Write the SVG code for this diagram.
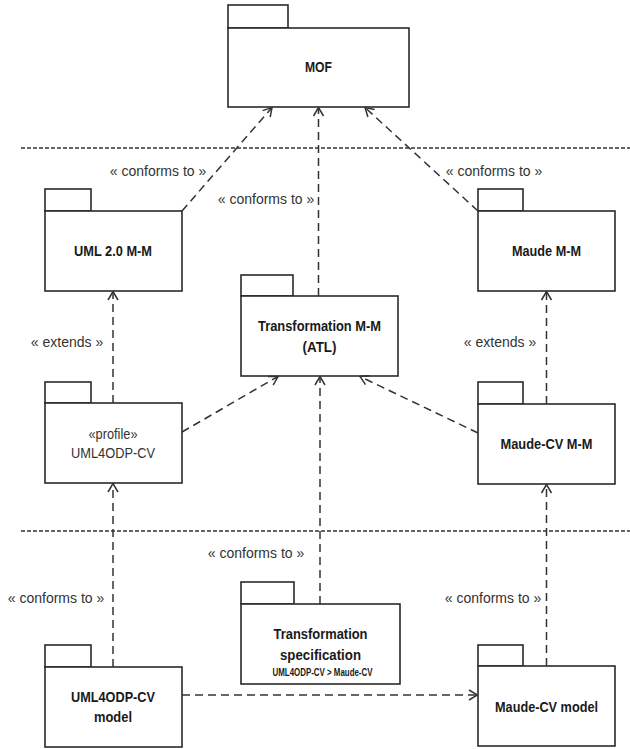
<svg xmlns="http://www.w3.org/2000/svg" width="630" height="749" viewBox="0 0 630 749">
  <style>
    .pkg { fill: #ffffff; stroke: #2a2a2a; stroke-width: 1.6; }
    .name { font-family: "Liberation Sans", Arial, sans-serif; font-weight: bold; font-size: 15px; fill: #1a1a1a; text-anchor: middle; }
    .plain { font-family: "Liberation Sans", Arial, sans-serif; font-size: 14.5px; fill: #333333; text-anchor: middle; }
    .small { font-family: "Liberation Sans", Arial, sans-serif; font-weight: bold; font-size: 10px; fill: #1a1a1a; text-anchor: middle; }
    .lbl { font-family: "Liberation Sans", Arial, sans-serif; font-size: 14px; fill: #333333; text-anchor: middle; }
    .sep { stroke: #333333; stroke-width: 1.4; stroke-dasharray: 4 2; fill: none; }
    .dep { stroke: #333333; stroke-width: 1.5; stroke-dasharray: 8 5; fill: none; marker-end: url(#open); }
  </style>
  <defs>
    <marker id="open" viewBox="0 0 10 12" refX="9.5" refY="6" markerWidth="10" markerHeight="12" markerUnits="userSpaceOnUse" orient="auto">
      <path d="M1,1 L9.5,6 L1,11" fill="none" stroke="#333333" stroke-width="1.5"/>
    </marker>
  </defs>

  <rect width="630" height="749" fill="#ffffff"/>

  <!-- level separators -->
  <line class="sep" x1="21" y1="148" x2="630" y2="148"/>
  <line class="sep" x1="21" y1="531" x2="630" y2="531"/>

  <!-- packages -->
  <g id="mof">
    <rect class="pkg" x="228" y="5" width="60" height="23"/>
    <rect class="pkg" x="228" y="28" width="181" height="79"/>
    <text class="name" x="318.5" y="72" textLength="27" lengthAdjust="spacingAndGlyphs">MOF</text>
  </g>

  <g id="uml-mm">
    <rect class="pkg" x="45" y="189" width="46" height="22"/>
    <rect class="pkg" x="45" y="211" width="137" height="80"/>
    <text class="name" x="113" y="255.5" textLength="78" lengthAdjust="spacingAndGlyphs">UML 2.0 M-M</text>
  </g>

  <g id="maude-mm">
    <rect class="pkg" x="478" y="189" width="45" height="22"/>
    <rect class="pkg" x="478" y="211" width="137" height="80"/>
    <text class="name" x="546.5" y="255.5" textLength="69" lengthAdjust="spacingAndGlyphs">Maude M-M</text>
  </g>

  <g id="transformation-mm">
    <rect class="pkg" x="241" y="275" width="52" height="21"/>
    <rect class="pkg" x="241" y="296" width="157" height="80"/>
    <text class="name" x="319.5" y="330.5" textLength="123" lengthAdjust="spacingAndGlyphs">Transformation M-M</text>
    <text class="name" x="319.5" y="351.5" textLength="34" lengthAdjust="spacingAndGlyphs">(ATL)</text>
  </g>

  <g id="uml4odp-profile">
    <rect class="pkg" x="45" y="382" width="46" height="21"/>
    <rect class="pkg" x="45" y="403" width="137" height="80"/>
    <text class="plain" x="113" y="439" textLength="49" lengthAdjust="spacingAndGlyphs">«profile»</text>
    <text class="plain" x="113" y="457.5" textLength="84" lengthAdjust="spacingAndGlyphs">UML4ODP-CV</text>
  </g>

  <g id="maude-cv-mm">
    <rect class="pkg" x="478" y="382" width="45" height="22"/>
    <rect class="pkg" x="478" y="404" width="137" height="80"/>
    <text class="name" x="546.5" y="448.5" textLength="92" lengthAdjust="spacingAndGlyphs">Maude-CV M-M</text>
  </g>

  <g id="transformation-spec">
    <rect class="pkg" x="241" y="582" width="53" height="22"/>
    <rect class="pkg" x="241" y="604" width="159" height="80"/>
    <text class="name" x="320.5" y="638.5" textLength="94" lengthAdjust="spacingAndGlyphs">Transformation</text>
    <text class="name" x="320.5" y="659.5" textLength="81" lengthAdjust="spacingAndGlyphs">specification</text>
    <text class="small" x="322.5" y="675.5" textLength="100" lengthAdjust="spacingAndGlyphs">UML4ODP-CV &gt; Maude-CV</text>
  </g>

  <g id="uml4odp-model">
    <rect class="pkg" x="45" y="645" width="46" height="22"/>
    <rect class="pkg" x="45" y="667" width="137" height="80"/>
    <text class="name" x="113" y="702" textLength="84" lengthAdjust="spacingAndGlyphs">UML4ODP-CV</text>
    <text class="name" x="113" y="721.5" textLength="38" lengthAdjust="spacingAndGlyphs">model</text>
  </g>

  <g id="maude-cv-model">
    <rect class="pkg" x="478" y="645" width="45" height="21"/>
    <rect class="pkg" x="478" y="666" width="137" height="80"/>
    <text class="name" x="546.5" y="712" textLength="103" lengthAdjust="spacingAndGlyphs">Maude-CV model</text>
  </g>

  <!-- dependencies -->
  <g id="connectors">
    <line class="dep" x1="182" y1="211" x2="272" y2="107.5"/>
    <line class="dep" x1="318.5" y1="296" x2="318.5" y2="107.5"/>
    <line class="dep" x1="478" y1="211" x2="365" y2="107.5"/>
    <line class="dep" x1="113" y1="403" x2="113" y2="291.5"/>
    <line class="dep" x1="546.5" y1="404" x2="546.5" y2="291.5"/>
    <line class="dep" x1="182" y1="432" x2="278" y2="376.5"/>
    <line class="dep" x1="478" y1="433" x2="360" y2="376.5"/>
    <line class="dep" x1="320" y1="604" x2="320" y2="376.5"/>
    <line class="dep" x1="113" y1="667" x2="113" y2="483.5"/>
    <line class="dep" x1="546.5" y1="666" x2="546.5" y2="484.5"/>
    <line class="dep" x1="182" y1="695" x2="477.5" y2="695"/>
  </g>

  <!-- stereotype labels -->
  <g id="labels">
    <text class="lbl" x="158" y="175.5">« conforms to »</text>
    <text class="lbl" x="266" y="203.5">« conforms to »</text>
    <text class="lbl" x="494" y="175.5">« conforms to »</text>
    <text class="lbl" x="67" y="346.5">« extends »</text>
    <text class="lbl" x="500" y="346.5">« extends »</text>
    <text class="lbl" x="256" y="557.5">« conforms to »</text>
    <text class="lbl" x="56" y="602.5">« conforms to »</text>
    <text class="lbl" x="493" y="602.5">« conforms to »</text>
  </g>
</svg>
